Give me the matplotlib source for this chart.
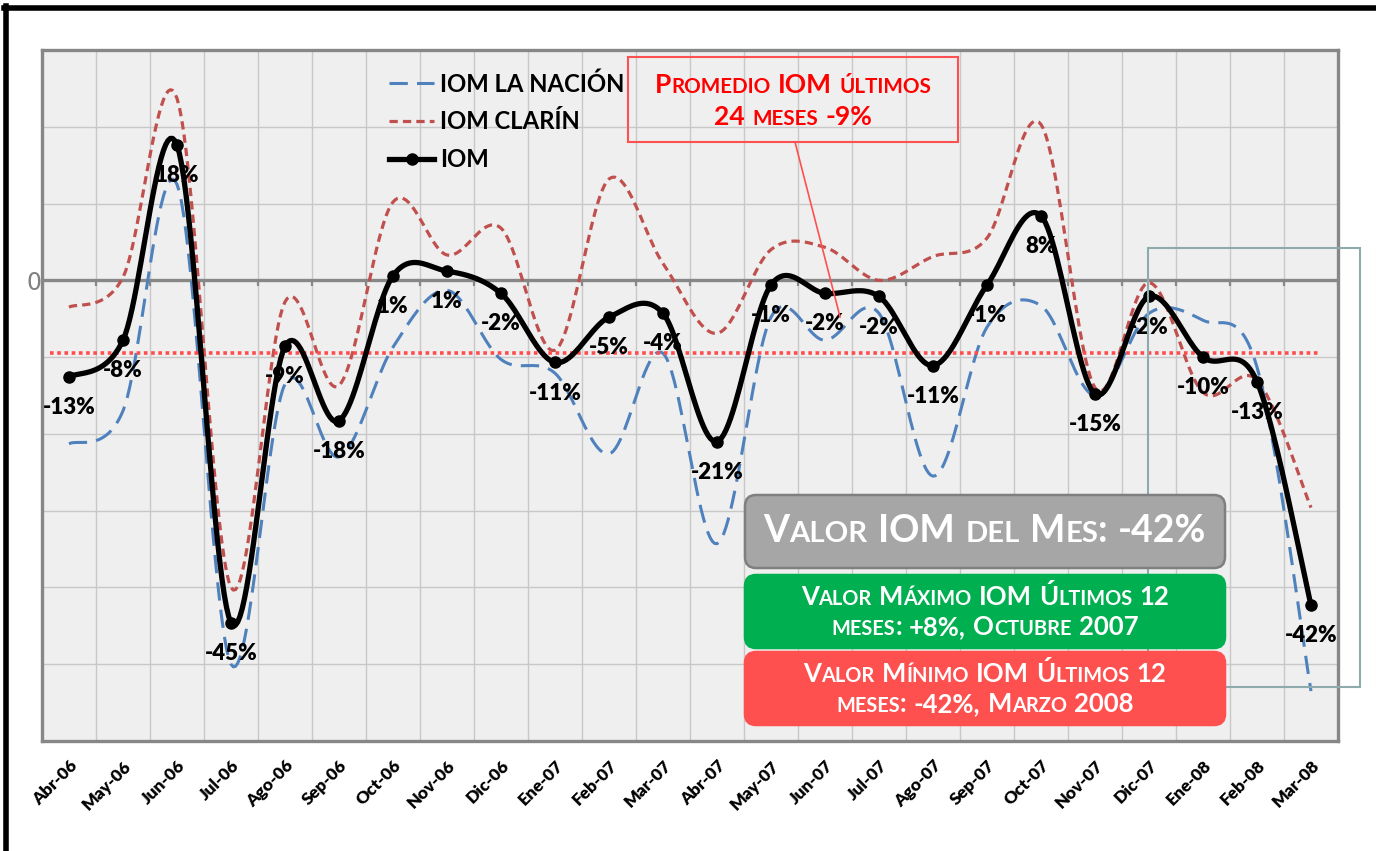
import itertools
import numpy as np
import matplotlib
matplotlib.use('Agg')
from matplotlib import pyplot as plt
from matplotlib import font_manager
from matplotlib.patches import FancyBboxPatch, Rectangle
from matplotlib.lines import Line2D
from matplotlib.offsetbox import TextArea, HPacker, VPacker, AnnotationBbox
from matplotlib.transforms import IdentityTransform

months = ['Abr-06', 'May-06', 'Jun-06', 'Jul-06', 'Ago-06', 'Sep-06',
          'Oct-06', 'Nov-06', 'Dic-06', 'Ene-07', 'Feb-07', 'Mar-07',
          'Abr-07', 'May-07', 'Jun-07', 'Jul-07', 'Ago-07', 'Sep-07',
          'Oct-07', 'Nov-07', 'Dic-07', 'Ene-08', 'Feb-08', 'Mar-08']
iom = [-12.6, -7.8, 17.6, -44.6, -8.6, -18.3, 0.6, 1.2, -1.7, -10.7, -4.8, -4.3,
       -21.0, -0.6, -1.7, -2.1, -11.1, -0.6, 8.4, -14.8, -2.1, -10.0, -13.2, -42.3]
iom_la_nacion = [-21.3, -17.0, 12.5, -50.0, -13.5, -23.0, -8.7, -1.3, -10.3, -12.1, -22.6, -9.5,
                 -34.3, -4.8, -7.8, -4.3, -25.5, -6.1, -3.3, -15.0, -4.3, -5.2, -11.3, -53.5]
iom_clarin = [-3.5, 0.4, 23.7, -40.0, -2.8, -13.7, 10.2, 3.3, 6.8, -9.1, 13.2, 2.2,
              -6.9, 4.0, 4.3, 0.0, 3.1, 5.5, 20.3, -14.0, -0.3, -14.6, -13.0, -29.6]
promedio_24 = -9.4
series_names = ['IOM LA NACIÓN', 'IOM CLARÍN', 'IOM']

W, H = 1376, 851
available = {f.name for f in font_manager.fontManager.ttflist}
FONT = 'Lato' if 'Lato' in available else 'DejaVu Sans'


def smooth(y, n=24):
    """Excel style smoothed line: bezier through the points (catmull-rom)."""
    y = np.asarray(y, dtype=float)
    x = np.arange(len(y), dtype=float)
    t = np.linspace(0, 1, n, endpoint=False)
    out = []
    for arr in (x, y):
        p = np.concatenate([[arr[0]], arr, [arr[-1]]])
        segs = []
        for i in range(len(arr) - 1):
            p0, p1, p2, p3 = p[i:i + 4]
            c1 = p1 + (p2 - p0) / 6
            c2 = p2 - (p3 - p1) / 6
            segs.append((1 - t)**3 * p1 + 3 * (1 - t)**2 * t * c1
                        + 3 * (1 - t) * t**2 * c2 + t**3 * p2)
        segs.append([arr[-1]])
        out.append(np.concatenate(segs))
    return out


def small_caps(lines, size, color, sep):
    # fake small caps: lower case letters drawn as smaller capitals
    rows = []
    for line in lines:
        words = []
        for word in line.split(' '):
            runs = []
            for low, chars in itertools.groupby(word, key=str.islower):
                s = ''.join(chars)
                runs.append(TextArea(s.upper() if low else s,
                                     textprops=dict(size=size * 0.78 if low else size,
                                                    color=color, weight='bold', family=FONT)))
            words.append(HPacker(children=runs, pad=0, sep=0, align='baseline'))
        rows.append(HPacker(children=words, pad=0, sep=size * 0.28, align='baseline'))
    return VPacker(children=rows, pad=0, sep=sep, align='center')


fig = plt.figure(figsize=(W / 100, H / 100), dpi=100)
ax = fig.add_axes([42 / W, 1 - 741 / H, 1296 / W, 691 / H])
ax.set_facecolor('#efefef')
x = np.arange(len(months))

xs, ys = smooth(iom_clarin)
ax.plot(xs, ys, color='#c0504d', lw=2.3, dashes=(2.6, 1.6), zorder=2)
xs, ys = smooth(iom_la_nacion)
ax.plot(xs, ys, color='#4f81bd', lw=2.2, dashes=(6, 3), zorder=2.2)
ax.axhline(promedio_24, xmin=0.006, xmax=0.987, color='#ff4d4d', lw=2.6,
           dashes=(1, 1), zorder=2.5)
xs, ys = smooth(iom)
ax.plot(xs, ys, color='black', lw=3.8, zorder=4, solid_capstyle='round')
ax.plot(x, iom, 'o', color='black', ms=8, zorder=4.1)

for i, v in enumerate(iom):
    ax.annotate('{:.0f}%'.format(v), (i, v), xytext=(0, -22), textcoords='offset points',
                ha='center', va='center', fontsize=16, fontweight='heavy',
                family=FONT, zorder=3)

# axes, grid and the zero line with its little ticks
ax.set_xlim(-0.5, len(months) - 0.5)
ax.set_ylim(-60, 30)
yt = np.arange(-60, 31, 10)
ax.set_yticks(yt)
ax.set_yticklabels(['0' if v == 0 else '' for v in yt])
ax.set_xticks(x)
ax.set_xticklabels(months, rotation=45, ha='right', rotation_mode='anchor',
                   fontsize=12.5, fontweight='heavy', family=FONT)
ax.set_xticks(np.arange(len(months) + 1) - 0.5, minor=True)
ax.grid(axis='x', which='minor', color='#c8c8c8', lw=1)
ax.grid(axis='y', which='major', color='#c8c8c8', lw=1)
ax.set_axisbelow(True)
ax.tick_params(which='both', length=0)
ax.tick_params(axis='x', pad=12)
ax.tick_params(axis='y', pad=0, labelcolor='#808080', labelsize=17)
for sp in ax.spines.values():
    sp.set_color('#878787')
    sp.set_linewidth(2.4)
ax.axhline(0, color='#878787', lw=2.4, zorder=1.5)
bounds = np.arange(len(months) + 1) - 0.5
ax.plot(bounds, np.zeros(len(bounds)), ls='none', marker=3, ms=4, mew=1.6,
        color='#878787', zorder=1.5, clip_on=False)

# legend
handles = [Line2D([], [], color='#4f81bd', lw=2.2, dashes=(6, 3)),
           Line2D([], [], color='#c0504d', lw=2.3, dashes=(2.6, 1.6)),
           Line2D([], [], color='black', lw=3.8, marker='o', ms=8)]
ax.legend(handles, series_names, loc='upper left', bbox_to_anchor=(389 / W, 1 - 72 / H),
          bbox_transform=fig.transFigure, frameon=False, borderpad=0, borderaxespad=0,
          handlelength=1.9, handletextpad=0.25, labelspacing=0.62,
          prop=dict(family=FONT, weight='bold', size=17.2))

# outer frame of the slide (top and left only)
fig.add_artist(Line2D([4, W], [H - 8, H - 8], color='black', lw=4,
                      transform=IdentityTransform()))
fig.add_artist(Line2D([6, 6], [0, H - 6], color='black', lw=4,
                      transform=IdentityTransform()))

# highlight of the last months
ax.add_patch(Rectangle((1148, H - 687), 212, 439, fill=False, ec='#8faaac', lw=1.5,
                       transform=IdentityTransform(), clip_on=False, zorder=6))

# callout with the 24 month average
ax.add_patch(Rectangle((628, H - 142), 330, 85, fill=False, ec='#ff5050', lw=1.5,
                       transform=IdentityTransform(), clip_on=False, zorder=6))
ax.annotate('', xy=(14.28, -4.8), xytext=(795, H - 142), textcoords='figure pixels',
            arrowprops=dict(arrowstyle='-', color='#ff5050', lw=1.2, shrinkA=0, shrinkB=0),
            zorder=6)

boxes = [
    (['Valor IOM del Mes: -42%'], '#a6a6a6', 495, 568, 27),
    (['Valor Máximo IOM Últimos 12', 'meses: +8%, Octubre 2007'], '#00b050', 575, 648, 18.5),
    (['Valor Mínimo IOM Últimos 12', 'meses: -42%, Marzo 2008'], '#ff5050', 652, 725, 18.5),
]
for lines, color, top, bottom, size in boxes:
    ec = '#7f7f7f' if color == '#a6a6a6' else color
    ax.add_patch(FancyBboxPatch((745, H - bottom), 480, bottom - top,
                                boxstyle='round,pad=0,rounding_size=11', fc=color, ec=ec,
                                lw=1.8, transform=IdentityTransform(), clip_on=False,
                                zorder=10))
    ab = AnnotationBbox(small_caps(lines, size, 'white', 4), (985, H - (top + bottom) / 2),
                        xycoords='figure pixels', frameon=False, box_alignment=(0.5, 0.5),
                        annotation_clip=False, zorder=11)
    ax.add_artist(ab)

ab = AnnotationBbox(small_caps(['Promedio IOM últimos', '24 meses -9%'], 19, '#ff0000', 6),
                    (793, H - 101), xycoords='figure pixels', frameon=False,
                    box_alignment=(0.5, 0.5), annotation_clip=False, zorder=11)
ax.add_artist(ab)

fig.savefig('out.png', dpi=100)
